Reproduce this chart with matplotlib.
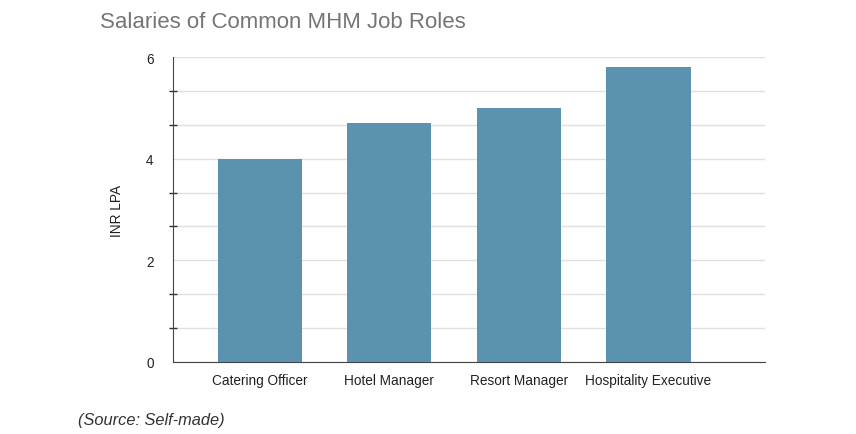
import matplotlib.pyplot as plt
from matplotlib.ticker import MultipleLocator

plt.rcParams['font.family'] = ['Liberation Sans', 'DejaVu Sans']

roles = ['Catering Officer', 'Hotel Manager', 'Resort Manager', 'Hospitality Executive']
salaries = [4.0, 4.7, 5.0, 5.8]

fig = plt.figure(figsize=(8.56, 4.35), dpi=100)
ax = fig.add_axes([173 / 856, 1 - 363 / 435, (765 - 173) / 856, (363 - 58) / 435])

ax.bar(range(len(roles)), salaries, width=0.65, color='#5A92B0', zorder=3)

ax.set_xlim(-0.67, 3.9)
ax.set_ylim(0, 6)
ax.yaxis.set_major_locator(MultipleLocator(2))
ax.yaxis.set_minor_locator(MultipleLocator(2 / 3))
ax.grid(axis='y', which='both', color='#e0e0e0', linewidth=1, zorder=0)

ax.set_xticks(range(len(roles)))
ax.set_xticklabels(roles, fontsize=9.8, color='#222222')
ax.tick_params(axis='x', length=0, pad=8)
ax.tick_params(axis='y', which='major', length=0, pad=14, labelsize=9.8, labelcolor='#222222')
ax.tick_params(axis='y', which='minor', length=6, direction='inout', color='#333333', width=1)

for side in ['top', 'right']:
    ax.spines[side].set_visible(False)
ax.spines['left'].set_color('#444444')
ax.spines['bottom'].set_color('#444444')

ax.set_ylabel('INR LPA', fontsize=9.8, color='#222222', labelpad=16)

fig.text(100 / 856, 1 - 22 / 435, 'Salaries of Common MHM Job Roles',
         fontsize=16, color='#757575', va='center', ha='left')
fig.text(78 / 856, 1 - 421 / 435, '(Source: Self-made)',
         fontsize=11.8, color='#333333', style='italic', va='center', ha='left')

fig.savefig('out.png', dpi=100)
